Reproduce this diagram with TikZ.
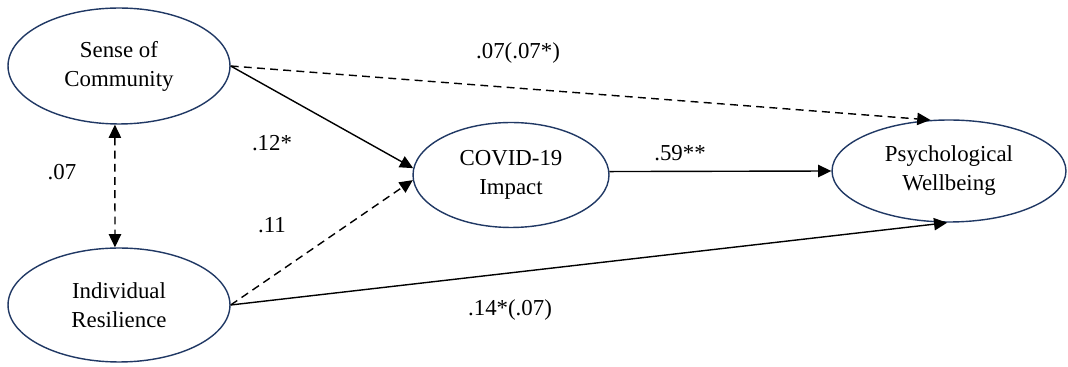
\documentclass[tikz,border=0pt]{standalone}
\usepackage{fontspec}
\setmainfont{Liberation Serif}
\usetikzlibrary{shapes.geometric, arrows.meta}

\definecolor{navy}{HTML}{203864}

\begin{document}
\begin{tikzpicture}[x=0.02cm, y=-0.02cm,
    latent/.style={ellipse, draw=navy, line width=0.8pt, inner sep=0pt, align=center,
        font=\rmfamily\fontsize{13}{16.5}\selectfont},
    tip/.tip={Triangle[length=7.5pt, width=7pt]},
    path/.style={-tip, line width=0.8pt},
    nspath/.style={path, dash pattern=on 4.5pt off 3pt},
    coef/.style={font=\rmfamily\fontsize{13}{16}\selectfont}]
    \useasboundingbox (0,0) rectangle (1068,367);

    % Latent variables
    \node[latent, minimum width=4.44cm, minimum height=2.32cm] (soc) at (119,66) {Sense of\\Community};
    \node[latent, minimum width=4.44cm, minimum height=2.28cm] (ir) at (119,305) {Individual\\Resilience};
    \node[latent, minimum width=3.92cm, minimum height=2.10cm] (covid) at (511,175) {COVID-19\\Impact};
    \node[latent, minimum width=4.68cm, minimum height=2.04cm] (pw) at (949,171) {Psychological\\Wellbeing};

    % Paths
    \draw[nspath, tip-tip] (soc.266) -- (ir.94);
    \draw[nspath] (soc.east) -- (pw.110);
    \draw[path] (soc.east) -- (covid.176);
    \draw[nspath] (ir.east) -- (covid.183);
    \draw[path] (covid.2) -- (pw.west);
    \draw[path] (ir.east) -- (pw.268);

    % Coefficients
    \node[coef] (c1) at (518,53) {.07(.07*)};
    \node[coef] (c2) at (272,143) {.12*};
    \node[coef] (c3) at (272,225) {.11};
    \node[coef] (c4) at (62,172) {.07};
    \node[coef] (c5) at (680,153) {.59**};
    \node[coef] (c6) at (510,310) {.14*(.07)};

\end{tikzpicture}
\end{document}
